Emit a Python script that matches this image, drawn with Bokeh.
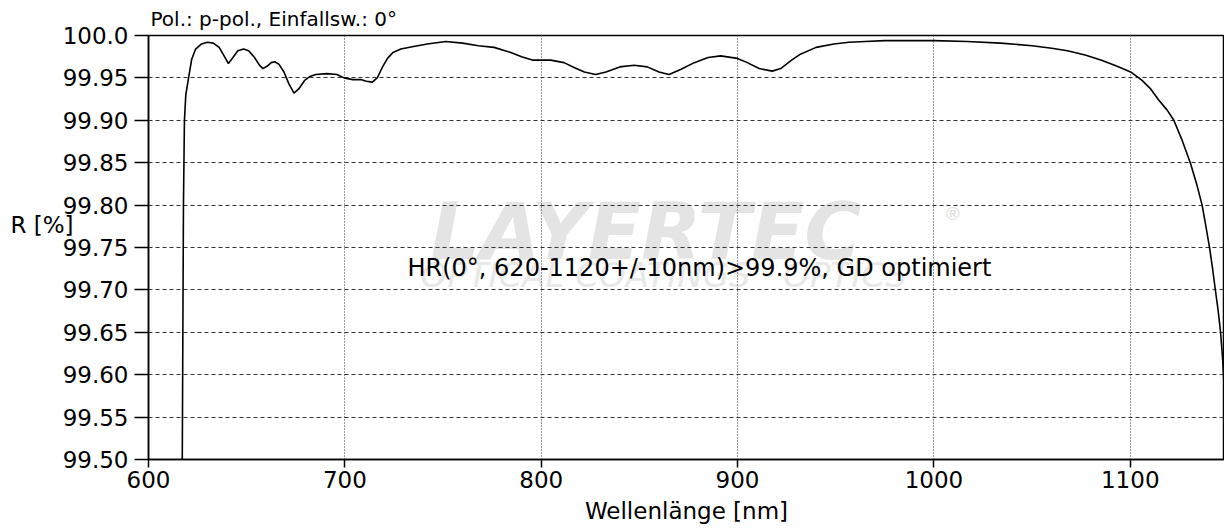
from bokeh.plotting import figure
from bokeh.models import FixedTicker, Label, Range1d, LinearAxis, CustomJSTickFormatter
from bokeh.embed import file_html
from bokeh.resources import INLINE

# ---- data ----
wavelength_nm = [617.2, 617.5, 617.8, 618.3, 619.0, 620.4, 622.0, 624.0, 627.0, 630.0,
                 633.0, 636.0, 638.5, 640.7, 643.0, 645.5, 648.4, 651.0, 654.0, 656.5,
                 658.3, 660.5, 662.5, 664.3, 666.5, 669.0, 671.5, 674.1, 676.5, 679.5,
                 682.5, 685.2, 691.0, 696.0, 699.6, 704.0, 708.1, 711.0, 714.0, 716.5,
                 719.0, 721.7, 724.5, 728.5, 735.0, 742.0, 751.4, 760.0, 768.0, 776.0,
                 784.5, 790.0, 795.5, 800.0, 804.8, 811.6, 817.0, 822.0, 827.7, 833.0,
                 840.0, 847.3, 854.0, 860.0, 865.1, 871.0, 878.0, 885.0, 891.4, 899.9,
                 905.0, 911.0, 917.7, 922.0, 927.0, 932.0, 940.0, 949.1, 956.7, 965.0,
                 975.0, 983.0, 1000.0, 1017.0, 1034.0, 1050.0, 1060.0, 1068.0, 1077.0, 1085.0,
                 1093.0, 1100.2, 1106.0, 1110.4, 1114.5, 1118.8, 1122.2, 1126.5, 1130.7, 1133.8,
                 1136.6, 1138.6, 1140.5, 1142.0, 1143.4, 1144.8, 1146.0, 1147.0, 1148.0]
reflectance_pct = [99.50, 99.65, 99.80, 99.90, 99.93, 99.950, 99.972, 99.984, 99.990, 99.992,
                   99.991, 99.986, 99.976, 99.967, 99.974, 99.982, 99.984, 99.982, 99.974, 99.965,
                   99.961, 99.964, 99.968, 99.969, 99.966, 99.957, 99.943, 99.932, 99.937, 99.947,
                   99.952, 99.954, 99.955, 99.954, 99.950, 99.948, 99.948, 99.946, 99.945, 99.950,
                   99.962, 99.973, 99.980, 99.984, 99.987, 99.990, 99.993, 99.991, 99.988, 99.986,
                   99.980, 99.975, 99.971, 99.971, 99.971, 99.968, 99.962, 99.957, 99.954, 99.957,
                   99.963, 99.965, 99.963, 99.957, 99.954, 99.960, 99.968, 99.974, 99.976, 99.973,
                   99.968, 99.961, 99.958, 99.961, 99.970, 99.978, 99.986, 99.990, 99.992, 99.993,
                   99.994, 99.994, 99.994, 99.993, 99.991, 99.988, 99.985, 99.982, 99.977, 99.971,
                   99.964, 99.957, 99.947, 99.937, 99.924, 99.912, 99.900, 99.876, 99.849, 99.825,
                   99.800, 99.774, 99.748, 99.724, 99.699, 99.675, 99.650, 99.620, 99.580]

x_ticks = [600, 700, 800, 900, 1000, 1100]
y_ticks = [99.50, 99.55, 99.60, 99.65, 99.70, 99.75, 99.80, 99.85, 99.90, 99.95, 100.0]
y_tick_labels = ["99.50", "99.55", "99.60", "99.65", "99.70", "99.75",
                 "99.80", "99.85", "99.90", "99.95", "100.0"]

title_text = "Pol.: p-pol., Einfallsw.: 0°"
y_label_text = "R [%]"
y_label_pos = 99.776
x_label_text = "Wellenlänge [nm]"
note_text = "HR(0°, 620-1120+/-10nm)>99.9%, GD optimiert"
watermark_main = "LAYERTEC"
watermark_sub = "OPTICAL COATINGS · OPTICS"

FONT = "DejaVu Sans"

p = figure(width=1224, height=531, output_backend="svg", toolbar_location=None,
           x_range=Range1d(600, 1148), y_range=Range1d(99.5, 100.0),
           min_border_left=148, min_border_right=0, min_border_top=35, min_border_bottom=72,
           title=title_text)
p.background_fill_color = "white"
p.border_fill_color = "white"
p.outline_line_color = "black"
p.outline_line_width = 1.5

p.title.align = "left"
p.title.offset = 2
p.title.standoff = 9
p.title.text_font = FONT
p.title.text_font_size = "20px"
p.title.text_font_style = "normal"
p.title.text_color = "black"

# watermark (behind the grid)
p.add_layout(Label(x=743.5, y=99.735, text=watermark_main,
                   text_font=FONT, text_font_size="78px", text_font_style="bold italic",
                   text_color="#e4e4e4", text_align="left", text_baseline="middle",
                   y_offset=28, level="image"))
p.add_layout(Label(x=1005, y=99.79, text="®", text_font=FONT, text_font_size="18px",
                   text_color="#dddddd", text_align="left", text_baseline="middle", level="image"))
p.add_layout(Label(x=738.5, y=99.717, text=watermark_sub, text_font=FONT,
                   text_font_size="34px", text_font_style="italic", text_color="#e8e8e8",
                   text_align="left", text_baseline="middle", level="image"))

p.line(wavelength_nm, reflectance_pct, line_color="black", line_width=1.6)

# axes
for ax in (p.xaxis, p.yaxis):
    ax.axis_line_color = "black"
    ax.axis_line_width = 1.5
    ax.major_tick_line_color = "black"
    ax.major_tick_line_width = 1.5
    ax.minor_tick_line_color = None
    ax.major_tick_in = 0
    ax.major_label_text_font = FONT
    ax.major_label_text_font_size = "23px"
    ax.major_label_text_color = "black"

p.xaxis.ticker = FixedTicker(ticks=x_ticks)
p.yaxis.ticker = FixedTicker(ticks=y_ticks)
p.yaxis.major_label_overrides = {t: l for t, l in zip(y_ticks, y_tick_labels)}
p.xaxis.major_tick_out = 8
p.yaxis.major_tick_out = 14
p.xaxis.major_label_standoff = 3
p.yaxis.major_label_standoff = 6

p.xaxis.axis_label = x_label_text
p.xaxis.axis_label_text_font = FONT
p.xaxis.axis_label_text_font_size = "23px"
p.xaxis.axis_label_text_font_style = "normal"
p.xaxis.axis_label_text_color = "black"
p.xaxis.axis_label_standoff = 7

# extra left axis carrying the horizontal "R [%]" label
r_axis = LinearAxis(ticker=FixedTicker(ticks=[y_label_pos]),
                    formatter=CustomJSTickFormatter(code="return %r;" % y_label_text),
                    axis_line_color=None, major_tick_line_color=None, minor_tick_line_color=None,
                    major_label_text_font=FONT, major_label_text_font_size="23px",
                    major_label_text_color="black", major_label_standoff=-20)
p.add_layout(r_axis, "left")

# grid
p.xgrid.ticker = FixedTicker(ticks=x_ticks)
p.ygrid.ticker = FixedTicker(ticks=y_ticks)
p.xgrid.grid_line_color = "#333333"
p.xgrid.grid_line_dash = "1 2"
p.xgrid.grid_line_width = 1
p.ygrid.grid_line_color = "#333333"
p.ygrid.grid_line_dash = "4 3"
p.ygrid.grid_line_width = 1

p.add_layout(Label(x=731.9, y=99.7264, text=note_text,
                   text_font=FONT, text_font_size="24px", text_color="black",
                   text_align="left", text_baseline="middle"))

open("out.html", "w").write(file_html(p, INLINE))
